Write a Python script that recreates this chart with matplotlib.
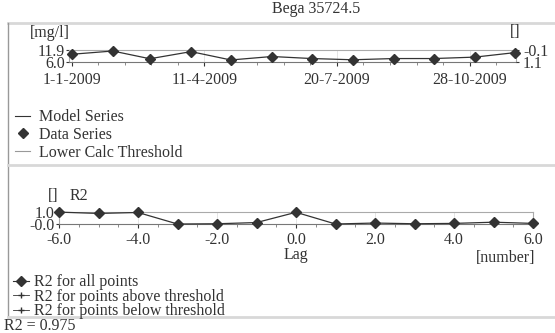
import matplotlib
matplotlib.use("Agg")
import matplotlib.pyplot as plt
from matplotlib.lines import Line2D
import numpy as np
import datetime as dt

plt.rcParams['font.family'] = ['Liberation Serif', 'DejaVu Serif']

title = "Bega 35724.5"
dates = ["2009-01-01", "2009-02-01", "2009-03-01", "2009-04-01", "2009-05-01", "2009-06-01",
         "2009-07-01", "2009-08-01", "2009-09-01", "2009-10-01", "2009-11-01", "2009-12-01"]
data_values = [9.8, 11.4, 7.6, 11.1, 7.0, 8.7, 7.7, 7.1, 7.7, 7.7, 8.4, 10.6]
top_ylim = [6.0, 11.9]
top_yticks = ["6.0", "11.9"]
right_ylim = [1.1, -0.1]
right_yticks = ["1.1", "-0.1"]
date_ticks = ["2009-01-01", "2009-04-11", "2009-07-20", "2009-10-28"]
date_labels = ["1-1-2009", "11-4-2009", "20-7-2009", "28-10-2009"]

lags = [-6, -5, -4, -3, -2, -1, 0, 1, 2, 3, 4, 5, 6]
r2_values = [0.99, 0.88, 0.96, 0.0, 0.02, 0.12, 0.975, 0.0, 0.08, 0.02, 0.05, 0.15, 0.05]
lag_ticks = [-6, -4, -2, 0, 2, 4, 6]
lag_labels = ["-6.0", "-4.0", "-2.0", "0.0", "2.0", "4.0", "6.0"]

legend1 = ["Model Series", "Data Series", "Lower Calc Threshold"]
legend2 = ["R2 for all points", "R2 for points above threshold", "R2 for points below threshold"]
r2_text = "R2 = 0.975"

W, H = 555, 333
fig = plt.figure(figsize=(W / 100, H / 100), dpi=100)
DARK = "#333333"
FS = 11.5

def ax_px(x0, y0, x1, y1):
    return fig.add_axes([x0 / W, 1 - y1 / H, (x1 - x0) / W, (y1 - y0) / H])

def txt(x, y, s, ha="left", va="center"):
    fig.text(x / W, 1 - y / H, s, ha=ha, va=va, fontsize=FS, color=DARK)

# frame overlay
fr = fig.add_axes([0, 0, 1, 1], zorder=-1)
fr.set_xlim(0, W); fr.set_ylim(H, 0); fr.axis("off")
fr.plot([8, W], [23, 23], color="#d8d8d8", lw=2)
fr.plot([8, 8], [23, 318], color="#999999", lw=1)
fr.plot([8, W], [164.5, 164.5], color="#d8d8d8", lw=2)
fr.plot([8, W], [316.5, 316.5], color="#d8d8d8", lw=2)
txt(316, 9, title, ha="center")

# top axes
d = [dt.datetime.strptime(s, "%Y-%m-%d") for s in dates]
ax = ax_px(69, 50, 516, 62)
ax.plot(d, data_values, color=DARK, lw=0.9, marker="D", ms=5.5, zorder=3, clip_on=False)
ax.set_xlim(d[0] - dt.timedelta(days=2), d[-1] + dt.timedelta(days=1))
ax.set_ylim(*top_ylim)
ax.set_yticks(top_ylim)
ax.set_yticklabels(top_yticks)
dt_ticks = [dt.datetime.strptime(s, "%Y-%m-%d") for s in date_ticks]
ax.set_xticks(dt_ticks)
ax.set_xticklabels(date_labels)
minor = []
for t in dt_ticks:
    for k in range(1, 5):
        minor.append(t + dt.timedelta(days=20 * k))
ax.set_xticks([m for m in minor if m <= d[-1]], minor=True)
ax.tick_params(axis="x", which="major", length=3, color=DARK, labelsize=FS, pad=4, labelcolor=DARK)
ax.tick_params(axis="x", which="minor", length=2, color="#777777")
ax.tick_params(axis="y", length=2, labelsize=FS, pad=1, labelcolor=DARK, color=DARK)
for s in ["top", "right", "left"]:
    ax.spines[s].set_color("#aaaaaa")
ax.spines["bottom"].set_color("#777777")
ax.grid(axis="x", color="#e0e0e0", lw=0.6)
ax2 = ax.twinx()
ax2.set_ylim(*right_ylim)
ax2.set_yticks(right_ylim)
ax2.set_yticklabels(right_yticks)
ax2.tick_params(axis="y", length=2, labelsize=FS, pad=3, labelcolor=DARK, color=DARK)
for s in ["top", "right", "left", "bottom"]:
    ax2.spines[s].set_visible(False)
txt(30, 33, "[mg/l]")
txt(515, 32, "[]", ha="center")

# legend 1
h1 = [Line2D([], [], color=DARK, lw=0.8),
      Line2D([], [], color=DARK, lw=0, marker="D", ms=5),
      Line2D([], [], color="#999999", lw=0.8)]
fig.legend(h1, legend1, loc="upper left", bbox_to_anchor=(9 / W, 1 - 103 / H), frameon=False,
           fontsize=FS, handlelength=0.9, handletextpad=0.6, labelspacing=0.1, borderaxespad=0,
           labelcolor=DARK)

# bottom axes
bx = ax_px(59, 212, 533, 224)
bx.plot(lags, r2_values, color=DARK, lw=0.9, marker="D", ms=5.5, zorder=3, clip_on=False)
bx.set_xlim(-6, 6)
bx.set_ylim(0, 1)
bx.set_yticks([0, 1])
bx.set_yticklabels(["-0.0", "1.0"])
bx.set_xticks(lag_ticks)
bx.set_xticklabels(lag_labels)
bx.set_xticks(np.arange(-6, 6.01, 0.5), minor=True)
bx.tick_params(axis="x", which="major", length=3, color=DARK, labelsize=FS, pad=3, labelcolor=DARK)
bx.tick_params(axis="x", which="minor", length=2, color="#777777")
bx.tick_params(axis="y", length=2, labelsize=FS, pad=1, labelcolor=DARK, color=DARK)
for s in ["top", "right", "left"]:
    bx.spines[s].set_color("#aaaaaa")
bx.spines["bottom"].set_color("#777777")
bx.grid(axis="x", color="#e0e0e0", lw=0.6)
txt(53, 196, "[]", ha="center")
txt(70, 196, "R2")
txt(296, 255, "Lag", ha="center")
txt(535, 258, "[number]", ha="right")

h2 = [Line2D([], [], color=DARK, lw=0.8, marker="D", ms=5),
      Line2D([], [], color=DARK, lw=0.6, marker="+", ms=4),
      Line2D([], [], color=DARK, lw=0.6, marker="+", ms=4)]
fig.legend(h2, legend2, loc="upper left", bbox_to_anchor=(7 / W, 1 - 268 / H), frameon=False,
           fontsize=FS, handlelength=1.0, handletextpad=0.3, labelspacing=-0.1, borderaxespad=0,
           labelcolor=DARK)
txt(4, 326, r2_text)

fig.savefig("out.png", dpi=100)
